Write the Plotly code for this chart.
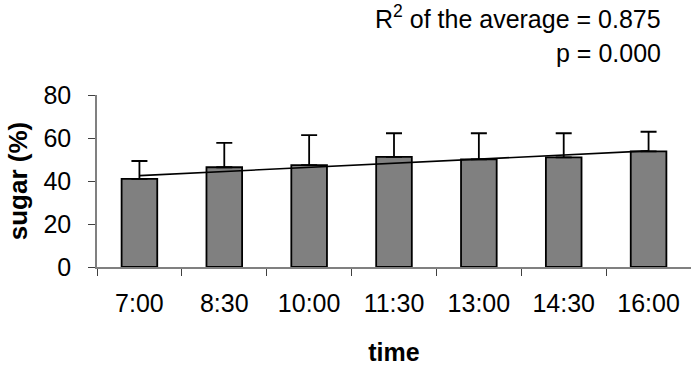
import plotly.graph_objects as go

times = ["7:00", "8:30", "10:00", "11:30", "13:00", "14:30", "16:00"]
sugar_mean = [41.0, 46.4, 47.4, 51.2, 50.1, 51.0, 53.8]
sugar_err = [8.3, 11.3, 13.9, 11.0, 12.1, 11.2, 9.1]
trend_times = ["7:00", "16:00"]
trend_values = [42.5, 54.0]
y_ticks = [0, 20, 40, 60, 80]

FONT = "Liberation Sans, Arial, sans-serif"

fig = go.Figure()
fig.add_trace(go.Bar(
    x=times, y=sugar_mean, width=0.42,
    marker=dict(color="#808080", line=dict(color="black", width=1.8)),
    error_y=dict(type="data", array=sugar_err, arrayminus=[0] * len(sugar_err),
                 symmetric=False, color="black", thickness=1.8, width=8),
    showlegend=False,
))
fig.add_trace(go.Scatter(
    x=trend_times, y=trend_values, mode="lines",
    line=dict(color="black", width=1.6), showlegend=False,
))

fig.update_layout(
    width=691, height=368,
    margin=dict(l=97, r=0, t=95, b=101),
    plot_bgcolor="white", paper_bgcolor="white",
    font=dict(family=FONT, size=25, color="black"),
    bargap=0.58,
)
fig.update_xaxes(
    type="category", tickson="boundaries", ticks="outside", ticklen=7,
    tickcolor="#404040", tickwidth=1, showline=True, linecolor="#808080", linewidth=1.5,
    showgrid=False, zeroline=False,
    tickfont=dict(size=25), ticklabelstandoff=13,
    title=dict(text="time", font=dict(size=25, weight="bold"), standoff=28),
)
fig.update_yaxes(
    range=[0, 80], tickvals=y_ticks, ticks="outside", ticklen=7,
    tickcolor="#404040", tickwidth=1, showline=True, linecolor="#808080", linewidth=1.5,
    showgrid=False, zeroline=False,
    tickfont=dict(size=25), ticklabelstandoff=12,
    title=dict(text="sugar (%)", font=dict(size=26, weight="bold"), standoff=8),
)

fig.add_annotation(
    text="R<sup>2</sup> of the average = 0.875", xref="paper", yref="paper",
    x=(663 - 97) / 594, y=(267 - 17) / 172, xanchor="right", yanchor="middle",
    showarrow=False, font=dict(size=25),
)
fig.add_annotation(
    text="p = 0.000", xref="paper", yref="paper",
    x=(663 - 97) / 594, y=(267 - 53) / 172, xanchor="right", yanchor="middle",
    showarrow=False, font=dict(size=25),
)

fig.write_html("out.html")
